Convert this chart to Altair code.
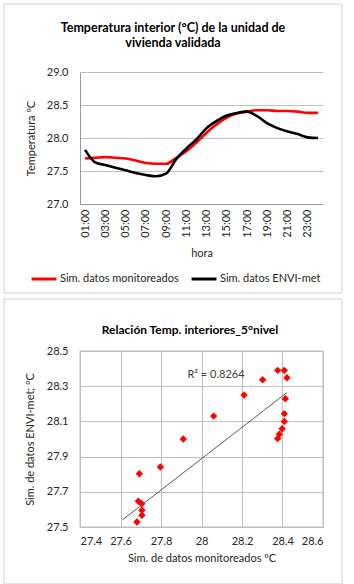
import altair as alt
import pandas as pd

# ---------------- data ----------------
hours = ["01:00", "02:00", "03:00", "04:00", "05:00", "06:00", "07:00", "08:00",
         "09:00", "10:00", "11:00", "12:00", "13:00", "14:00", "15:00", "16:00",
         "17:00", "18:00", "19:00", "20:00", "21:00", "22:00", "23:00", "24:00"]
monitoreados = [27.69, 27.70, 27.71, 27.70, 27.69, 27.66, 27.62, 27.61,
                27.61, 27.70, 27.80, 27.93, 28.08, 28.21, 28.31, 28.37,
                28.40, 28.42, 28.42, 28.41, 28.41, 28.40, 28.38, 28.38]
envimet = [27.82, 27.63, 27.59, 27.55, 27.51, 27.47, 27.44, 27.42,
           27.46, 27.68, 27.84, 27.98, 28.15, 28.26, 28.34, 28.38,
           28.40, 28.33, 28.22, 28.15, 28.10, 28.06, 28.01, 28.00]
series_names = ["Sim. datos monitoreados", "Sim. datos ENVI-met"]
series_colors = ["#ff0000", "#000000"]

# scatter: one pair per hour (hours 06-09 fall below the y-axis minimum and are clipped)
scatter_x = [27.693, 27.705, 27.706, 27.706, 27.681, 27.66, 27.62, 27.61,
             27.61, 27.688, 27.797, 27.910, 28.060, 28.210, 28.302, 28.376,
             28.409, 28.422, 28.414, 28.409, 28.409, 28.398, 28.384, 28.376]
scatter_y = [27.803, 27.632, 27.595, 27.567, 27.528, 27.47, 27.44, 27.42,
             27.46, 27.646, 27.841, 28.000, 28.130, 28.250, 28.337, 28.390,
             28.390, 28.348, 28.229, 28.144, 28.100, 28.058, 28.027, 28.002]
r2_label = "R² = 0.8264"

line_ticks = [27.0, 27.5, 28.0, 28.5, 29.0]
sc_x_ticks = [27.4, 27.6, 27.8, 28.0, 28.2, 28.4, 28.6]
sc_y_ticks = [27.5, 27.7, 27.9, 28.1, 28.3, 28.5]

title_top = ["Temperatura interior (°C) de la unidad de", "vivienda validada"]
title_bottom = "Relación Temp. interiores_5°nivel"

# ---------------- tables ----------------
df_line = pd.DataFrame({
    "hora": hours * 2,
    "temp": monitoreados + envimet,
    "serie": [series_names[0]] * len(hours) + [series_names[1]] * len(hours),
})
df_sc = pd.DataFrame({"x": scatter_x, "y": scatter_y})

FONT = "Lato"
TXT = "#262626"
GRID = "#bfbfbf"
BORDER = "#d0d0d0"

one_row = alt.Data(values=[{"k": 1}])

# ---------------- top chart ----------------
lines = alt.Chart(df_line).mark_line(strokeWidth=2.6, interpolate="monotone").encode(
    x=alt.X("hora:O", sort=hours,
            scale=alt.Scale(type="point", padding=0.5),
            axis=alt.Axis(values=hours[::2], labelAngle=-90, labelPadding=5,
                          title="hora", titlePadding=10, ticks=False,
                          domainColor="#9a9a9a", grid=False)),
    y=alt.Y("temp:Q", scale=alt.Scale(domain=[27, 29], nice=False, zero=False),
            axis=alt.Axis(values=line_ticks, format=".1f", title="Temperatura ºC",
                          labelPadding=12, titlePadding=10, ticks=False,
                          labelOverlap=False, tickCount=20,
                          domainColor="#9a9a9a", grid=True, gridColor=GRID)),
    color=alt.Color("serie:N",
                    scale=alt.Scale(domain=series_names, range=series_colors),
                    legend=alt.Legend(orient="none", legendX=-50, legendY=193,
                                      direction="horizontal", title=None,
                                      symbolType="stroke", symbolStrokeWidth=3,
                                      symbolSize=620, labelOffset=2,
                                      columnPadding=6, labelFontSize=11,
                                      labelFont=FONT, labelColor=TXT)),
)

border_top = alt.Chart(one_row).mark_rect(fillOpacity=0, stroke=BORDER, strokeWidth=1).encode(
    x=alt.value(-76), x2=alt.value(262), y=alt.value(-68), y2=alt.value(221)
)

top = alt.layer(border_top, lines).properties(
    width=243, height=132,
    title=alt.TitleParams(title_top, fontSize=12.5, font=FONT, fontWeight="bold",
                          color="#000000", anchor="middle", frame="bounds",
                          lineHeight=15, offset=-46),
)

# ---------------- bottom chart ----------------
points = alt.Chart(df_sc).mark_point(shape="diamond", filled=True, size=55,
                                     color="#ff0000", opacity=1, clip=True).encode(
    x=alt.X("x:Q", scale=alt.Scale(domain=[27.4, 28.6], nice=False, zero=False),
            axis=alt.Axis(values=sc_x_ticks, format="~g",
                          title="Sim. de datos monitoreados ºC",
                          labelPadding=8, titlePadding=6, ticks=False,
                          labelOverlap=False, tickCount=20,
                          domainColor=GRID, grid=True, gridColor=GRID)),
    y=alt.Y("y:Q", scale=alt.Scale(domain=[27.5, 28.5], nice=False, zero=False),
            axis=alt.Axis(values=sc_y_ticks, format=".1f",
                          title="Sim. de datos ENVI-met; ºC",
                          labelPadding=12, titlePadding=11, ticks=False,
                          labelOverlap=False, tickCount=20,
                          domainColor=GRID, grid=True, gridColor=GRID)),
)

trend = alt.Chart(df_sc).transform_regression(
    "x", "y"
).mark_line(color="#595959", strokeWidth=1).encode(x="x:Q", y="y:Q")

r2 = alt.Chart(one_row).mark_text(text=r2_label, font=FONT, fontSize=11,
                                  color="#404040", align="center",
                                  baseline="middle").encode(
    x=alt.value(136), y=alt.value(24)
)

border_bot = alt.Chart(one_row).mark_rect(fillOpacity=0, stroke=BORDER, strokeWidth=1).encode(
    x=alt.value(-76), x2=alt.value(262), y=alt.value(-52), y2=alt.value(233)
)

frame_bot = alt.Chart(one_row).mark_rect(fillOpacity=0, stroke=GRID, strokeWidth=1).encode(
    x=alt.value(0), x2=alt.value(243), y=alt.value(0), y2=alt.value(176)
)

bottom = alt.layer(border_bot, frame_bot, points, trend, r2).properties(
    width=243, height=176,
    title=alt.TitleParams(title_bottom, fontSize=12, font=FONT, fontWeight="bold",
                          color="#000000", anchor="middle", frame="bounds",
                          dx=17, offset=-38),
)

chart = alt.vconcat(top, bottom, spacing=4).properties(
    padding={"left": 3, "top": 3, "right": 3, "bottom": 0},
    background="#ffffff",
).configure_view(stroke=None).configure_axis(
    labelFont=FONT, titleFont=FONT, labelFontSize=11, titleFontSize=11,
    labelColor=TXT, titleColor=TXT, titleFontWeight="normal",
)

chart.save("out.html", embed_options={"renderer": "svg", "actions": False})
